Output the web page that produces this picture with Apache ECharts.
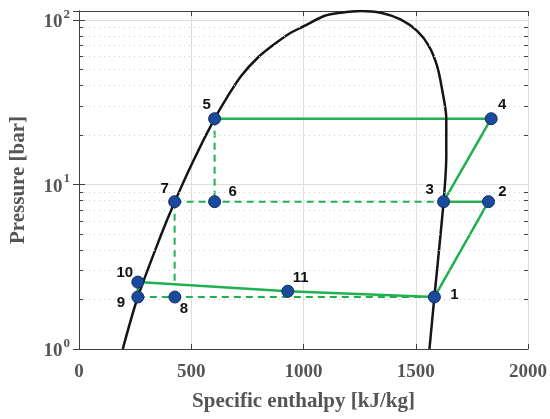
<!DOCTYPE html>
<html>
<head>
<meta charset="utf-8">
<script src="https://cdn.jsdelivr.net/npm/echarts@6/dist/echarts.min.js"></script>
<style>html,body{margin:0;padding:0;background:#fff}#main{width:550px;height:419px}</style>
</head>
<body>
<div id="main"></div>
<script>
// saturation dome: enthalpy [kJ/kg] / pressure [bar]
var domeH = [195, 262, 365, 426, 510, 604, 661, 723, 797, 871, 945, 1004, 1092, 1166, 1255, 1344, 1432, 1506, 1558, 1595, 1617, 1636, 1636, 1624, 1583, 1561];
var domeP = [1.0, 2.07, 4.91, 7.83, 14.0, 25.1, 34.1, 45.8, 59.1, 71.3, 83.8, 91.9, 105.7, 110.7, 113.3, 110.7, 100.9, 85.8, 69.6, 52.6, 38.0, 25.1, 15.0, 7.86, 2.07, 1.0];

// state points 1..11
var pointNames = ['1', '2', '3', '4', '5', '6', '7', '8', '9', '10', '11'];
var pointH = [1583, 1824, 1624, 1836, 604, 604, 426, 427, 262, 262, 930];
var pointP = [2.07, 7.86, 7.86, 25.1, 25.1, 7.86, 7.86, 2.07, 2.07, 2.55, 2.245];

// paths (by point number)
var solidPath = [5, 4, 3, 2, 1, 11, 10, 9];
var dashedPaths = [[5, 6], [7, 6, 3], [9, 8, 1]];
// dashed drop from 7 down to line 10-11
var dropH = [426, 426];
var dropP = [7.86, 2.47];

var xTicks = [0, 500, 1000, 1500, 2000];
var yDecades = [1, 10, 100];
var minorP = [2, 3, 4, 5, 6, 7, 8, 9, 20, 30, 40, 50, 60, 70, 80, 90];

var GREEN = '#1fb14e';
var AXIS = '#404040';
var TXT = '#555555';
var SERIF = '"Liberation Serif", "Times New Roman", serif';

// label offsets around each marker
var labelOffset = {
  '1': [20, -2], '2': [14, -10], '3': [-14, -12], '4': [11, -14], '5': [-8, -14],
  '6': [18, -10], '7': [-10, -13], '8': [9, 12], '9': [-17, 6], '10': [-13, -9], '11': [13, -13]
};

function pt(n) { return [pointH[n - 1], pointP[n - 1]]; }

var chart = echarts.init(document.getElementById('main'), null, { renderer: 'canvas' });

var series = [];

// grid helper: minor dotted lines + minor ticks on both sides
var minorLines = minorP.map(function (v) { return { yAxis: v }; });
var minorTicks = [];
minorP.forEach(function (v) {
  minorTicks.push([{ coord: [0, v] }, { coord: [18, v] }]);
  minorTicks.push([{ coord: [1982, v] }, { coord: [2000, v] }]);
});
series.push({
  type: 'line', data: [[0, 1]], showSymbol: false, silent: true, z: 1,
  lineStyle: { opacity: 0 },
  markLine: {
    silent: true, symbol: 'none', label: { show: false },
    lineStyle: { color: '#cdcdcd', type: [1, 4], width: 1 },
    data: minorLines
  }
});
series.push({
  type: 'line', data: [[0, 1]], showSymbol: false, silent: true, z: 6,
  lineStyle: { opacity: 0 },
  markLine: {
    silent: true, symbol: 'none', label: { show: false },
    lineStyle: { color: AXIS, type: 'solid', width: 1 },
    data: minorTicks
  }
});

series.push({
  type: 'line', data: solidPath.map(pt), showSymbol: false, z: 3,
  lineStyle: { color: GREEN, width: 2.5 }
});
dashedPaths.forEach(function (p) {
  series.push({
    type: 'line', data: p.map(pt), showSymbol: false, z: 3,
    lineStyle: { color: GREEN, width: 2, type: [7, 5] }
  });
});
series.push({
  type: 'line', data: dropH.map(function (h, i) { return [h, dropP[i]]; }), showSymbol: false, z: 3,
  lineStyle: { color: GREEN, width: 2, type: [7, 5] }
});

series.push({
  type: 'line', data: domeH.map(function (h, i) { return [h, domeP[i]]; }),
  showSymbol: false, smooth: 0.3, z: 4,
  lineStyle: { color: '#151515', width: 2.5 }
});

series.push({
  type: 'scatter', z: 5, symbolSize: 12,
  itemStyle: { color: '#1b4a9c', borderColor: '#0e2c66', borderWidth: 1, opacity: 1 },
  label: {
    show: true, position: 'inside', formatter: '{b}',
    fontFamily: '"Liberation Sans", Arial, sans-serif', fontWeight: 'bold', fontSize: 15, color: '#111'
  },
  data: pointNames.map(function (n, i) {
    return { name: n, value: [pointH[i], pointP[i]], label: { offset: labelOffset[n] } };
  })
});

function decadeLabel(v) {
  var e = Math.log(v) / Math.LN10;
  if (Math.abs(e - Math.round(e)) > 1e-6) return '';
  return '{b|10}{s|' + Math.round(e) + '}';
}

chart.setOption({
  animation: false,
  grid: { left: 77, right: 22, top: 11, bottom: 70 },
  xAxis: [{
    type: 'value', min: xTicks[0], max: xTicks[xTicks.length - 1], interval: 500,
    name: 'Specific enthalpy [kJ/kg]', nameLocation: 'middle', nameGap: 42,
    nameTextStyle: { fontFamily: SERIF, fontWeight: 'bold', fontSize: 21, color: TXT },
    axisLine: { show: true, lineStyle: { color: AXIS, width: 1 } },
    axisTick: { show: true, inside: true, length: 5, lineStyle: { color: AXIS } },
    axisLabel: {
      fontFamily: SERIF, fontWeight: 'bold', fontSize: 19, color: TXT, margin: 14,
      formatter: function (v) { return String(v); }
    },
    splitLine: { show: true, lineStyle: { color: '#dedede', width: 1 } }
  }, {
    type: 'value', position: 'top', min: 0, max: 2000, interval: 500,
    axisLine: { show: true, lineStyle: { color: AXIS, width: 1 } },
    axisTick: { show: true, inside: true, length: 5, lineStyle: { color: AXIS } },
    axisLabel: { show: false }, splitLine: { show: false }
  }],
  yAxis: [{
    type: 'log', logBase: 10, min: yDecades[0], max: 113.3,
    name: 'Pressure [bar]', nameLocation: 'middle', nameGap: 50,
    nameTextStyle: { fontFamily: SERIF, fontWeight: 'bold', fontSize: 21, color: TXT },
    axisLine: { show: true, lineStyle: { color: AXIS, width: 1 } },
    axisTick: { show: true, inside: true, length: 6, lineStyle: { color: AXIS } },
    axisLabel: {
      margin: 9, formatter: decadeLabel,
      rich: {
        b: { fontFamily: SERIF, fontWeight: 'bold', fontSize: 19, color: TXT, lineHeight: 24, verticalAlign: 'bottom' },
        s: { fontFamily: SERIF, fontWeight: 'bold', fontSize: 13, color: TXT, lineHeight: 24, verticalAlign: 'top', padding: [0, 0, 10, 1] }
      }
    },
    splitLine: { show: true, lineStyle: { color: '#dedede', width: 1 } },
    minorTick: { show: false }, minorSplitLine: { show: false }
  }, {
    type: 'log', logBase: 10, min: 1, max: 113.3, position: 'right',
    axisLine: { show: true, lineStyle: { color: AXIS, width: 1 } },
    axisTick: { show: true, inside: true, length: 6, lineStyle: { color: AXIS } },
    axisLabel: { show: false }, splitLine: { show: false }
  }],
  series: series
});
</script>
</body>
</html>
